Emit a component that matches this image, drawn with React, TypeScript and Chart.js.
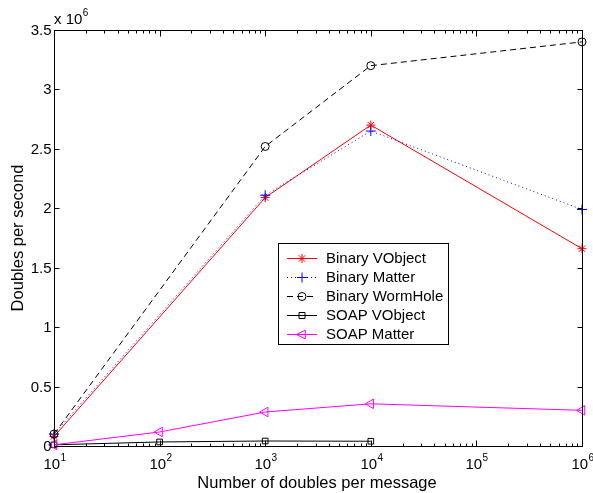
import React, { useEffect, useRef } from "react";
import { Chart, registerables } from "chart.js";

Chart.register(...registerables);

const SCALE = 1e6;
const xFull = [10, 1000, 10000, 1000000];
const xSoapVObject = [10, 100, 1000, 10000];
const xSoapMatter = [10, 100, 1000, 10000, 1000000];

const binaryVObject = [0.08, 2.09, 2.7, 1.66];
const binaryMatter = [0.1, 2.11, 2.65, 1.99];
const binaryWormHole = [0.1, 2.52, 3.2, 3.4];
const soapVObject = [0.01, 0.034, 0.042, 0.04];
const soapMatter = [0.01, 0.118, 0.286, 0.355, 0.3];

const yTicks = [0, 0.5, 1, 1.5, 2, 2.5, 3, 3.5];
const xExponents = [1, 2, 3, 4, 5, 6];

const seriesNames = ["Binary VObject", "Binary Matter", "Binary WormHole", "SOAP VObject", "SOAP Matter"];

const FONT = '"Liberation Sans", Arial, Helvetica, sans-serif';

function pts(xs: number[], ys: number[]) {
  return xs.map((x, i) => ({ x, y: ys[i] * SCALE }));
}

const styles = [
  { color: "#ff0000", dash: [] as number[], pointStyle: "star", radius: 4.5, rotation: 0, fill: "#ff0000", width: 1 },
  { color: "#0000ff", dash: [1, 3], pointStyle: "cross", radius: 5, rotation: 0, fill: "#0000ff", width: 1 },
  { color: "#000000", dash: [6, 4], pointStyle: "circle", radius: 4, rotation: 0, fill: "rgba(0,0,0,0)", width: 1 },
  { color: "#000000", dash: [], pointStyle: "rect", radius: 4, rotation: 0, fill: "rgba(0,0,0,0)", width: 1 },
  { color: "#ff00ff", dash: [], pointStyle: "triangle", radius: 5.5, rotation: -90, fill: "rgba(0,0,0,0)", width: 1 },
];

function drawMarker(ctx: CanvasRenderingContext2D, s: any, cx: number, cy: number) {
  ctx.save();
  ctx.strokeStyle = s.color;
  ctx.fillStyle = s.fill;
  ctx.lineWidth = 1;
  ctx.setLineDash([]);
  const r = s.radius;
  ctx.beginPath();
  if (s.pointStyle === "star") {
    for (let k = 0; k < 4; k++) {
      const a = (k * Math.PI) / 4;
      ctx.moveTo(cx + Math.cos(a) * r, cy + Math.sin(a) * r);
      ctx.lineTo(cx - Math.cos(a) * r, cy - Math.sin(a) * r);
    }
    ctx.stroke();
  } else if (s.pointStyle === "cross") {
    ctx.moveTo(cx - r, cy);
    ctx.lineTo(cx + r, cy);
    ctx.moveTo(cx, cy - r);
    ctx.lineTo(cx, cy + r);
    ctx.stroke();
  } else if (s.pointStyle === "circle") {
    ctx.arc(cx, cy, r, 0, Math.PI * 2);
    ctx.stroke();
  } else if (s.pointStyle === "rect") {
    const h = r * 0.75;
    ctx.rect(cx - h, cy - h, 2 * h, 2 * h);
    ctx.stroke();
  } else if (s.pointStyle === "triangle") {
    ctx.moveTo(cx - r, cy);
    ctx.lineTo(cx + r * 0.6, cy - r * 0.8);
    ctx.lineTo(cx + r * 0.6, cy + r * 0.8);
    ctx.closePath();
    ctx.stroke();
  }
  ctx.restore();
}

const axesPlugin = {
  id: "matlabAxes",
  afterDraw(chart: any) {
    const { ctx, chartArea: a, scales } = chart;
    const x = scales.x;
    const y = scales.y;
    ctx.save();
    ctx.strokeStyle = "#000";
    ctx.fillStyle = "#000";
    ctx.lineWidth = 1;
    ctx.setLineDash([]);
    const L = Math.round(a.left) + 0.5;
    const R = Math.round(a.right) + 0.5;
    const T = Math.round(a.top) + 0.5;
    const B = Math.round(a.bottom) + 0.5;
    ctx.strokeRect(L, T, R - L, B - T);

    // y ticks
    ctx.font = `15px ${FONT}`;
    ctx.textAlign = "right";
    ctx.textBaseline = "middle";
    yTicks.forEach((v) => {
      const py = Math.round(y.getPixelForValue(v * SCALE)) + 0.5;
      ctx.beginPath();
      ctx.moveTo(L, py);
      ctx.lineTo(L + 5, py);
      ctx.moveTo(R, py);
      ctx.lineTo(R - 5, py);
      ctx.stroke();
      ctx.fillText(String(v), L - 3, py);
    });

    // x ticks
    xExponents.forEach((e) => {
      const px = Math.round(x.getPixelForValue(Math.pow(10, e))) + 0.5;
      ctx.beginPath();
      ctx.moveTo(px, B);
      ctx.lineTo(px, B - 6);
      ctx.moveTo(px, T);
      ctx.lineTo(px, T + 6);
      ctx.stroke();
      if (e < 6) {
        for (let m = 2; m <= 9; m++) {
          const mx = Math.round(x.getPixelForValue(m * Math.pow(10, e))) + 0.5;
          ctx.beginPath();
          ctx.moveTo(mx, B);
          ctx.lineTo(mx, B - 3);
          ctx.moveTo(mx, T);
          ctx.lineTo(mx, T + 3);
          ctx.stroke();
        }
      }
      // label 10^e
      ctx.font = `15px ${FONT}`;
      const baseW = ctx.measureText("10").width;
      ctx.font = `10px ${FONT}`;
      const supW = ctx.measureText(String(e)).width;
      const start = px - (baseW + supW) / 2;
      ctx.textAlign = "left";
      ctx.textBaseline = "alphabetic";
      ctx.font = `15px ${FONT}`;
      ctx.fillText("10", start, 469);
      ctx.font = `10px ${FONT}`;
      ctx.fillText(String(e), start + baseW + 0.5, 461);
    });

    // x10^6 multiplier
    ctx.font = `15px ${FONT}`;
    ctx.textAlign = "left";
    ctx.textBaseline = "alphabetic";
    ctx.fillText("x 10", 54, 24);
    const mw = ctx.measureText("x 10").width;
    ctx.font = `10px ${FONT}`;
    ctx.fillText("6", 54 + mw + 0.5, 16);

    // axis titles
    ctx.font = `16.5px ${FONT}`;
    ctx.textAlign = "center";
    ctx.textBaseline = "middle";
    ctx.fillText("Number of doubles per message", (a.left + a.right) / 2 - 1, 483);
    ctx.save();
    ctx.translate(18, (a.top + a.bottom) / 2);
    ctx.rotate(-Math.PI / 2);
    ctx.fillText("Doubles per second", 0, 0);
    ctx.restore();

    // legend
    const lx = 278.5, ly = 243.5, lw = 170, lh = 101;
    ctx.fillStyle = "#fff";
    ctx.fillRect(lx, ly, lw, lh);
    ctx.strokeStyle = "#000";
    ctx.strokeRect(lx, ly, lw, lh);
    ctx.font = `15px ${FONT}`;
    ctx.textAlign = "left";
    ctx.textBaseline = "middle";
    seriesNames.forEach((name, i) => {
      const s = styles[i];
      const cy = 258 + i * 19;
      ctx.save();
      ctx.strokeStyle = s.color;
      ctx.lineWidth = 1;
      ctx.setLineDash(s.dash);
      ctx.beginPath();
      ctx.moveTo(287, cy + 0.5);
      ctx.lineTo(317, cy + 0.5);
      ctx.stroke();
      ctx.restore();
      drawMarker(ctx, s, 302, cy + 0.5);
      ctx.fillStyle = "#000";
      ctx.fillText(name, 326, cy + 1);
    });
    ctx.restore();
  },
};

export default function App() {
  const ref = useRef<HTMLCanvasElement>(null);
  useEffect(() => {
    document.body.style.margin = "0";
    const canvas = ref.current!;
    const dataSets = [
      pts(xFull, binaryVObject),
      pts(xFull, binaryMatter),
      pts(xFull, binaryWormHole),
      pts(xSoapVObject, soapVObject),
      pts(xSoapMatter, soapMatter),
    ];
    const chart = new Chart(canvas, {
      type: "line",
      data: {
        datasets: dataSets.map((d, i) => ({
          label: seriesNames[i],
          data: d,
          borderColor: styles[i].color,
          backgroundColor: styles[i].fill,
          borderWidth: 1,
          borderDash: styles[i].dash,
          pointStyle: styles[i].pointStyle as any,
          pointRadius: styles[i].radius,
          pointRotation: styles[i].rotation,
          pointBorderColor: styles[i].color,
          pointBackgroundColor: styles[i].fill,
          pointBorderWidth: 1,
          tension: 0,
          fill: false,
          clip: false as any,
          order: 5 - i,
        })),
      },
      options: {
        animation: false,
        responsive: false,
        layout: { padding: { left: 54, right: 11, top: 30, bottom: 47 } },
        plugins: { legend: { display: false }, tooltip: { enabled: false } },
        scales: {
          x: { type: "logarithmic", min: 10, max: 1000000, display: false },
          y: { type: "linear", min: 0, max: 3.5 * SCALE, display: false },
        },
      },
      plugins: [axesPlugin],
    });
    return () => chart.destroy();
  }, []);
  return (
    <div style={{ width: 593, height: 493, background: "#fff" }}>
      <canvas ref={ref} width={593} height={493} style={{ display: "block", width: 593, height: 493 }} />
    </div>
  );
}
